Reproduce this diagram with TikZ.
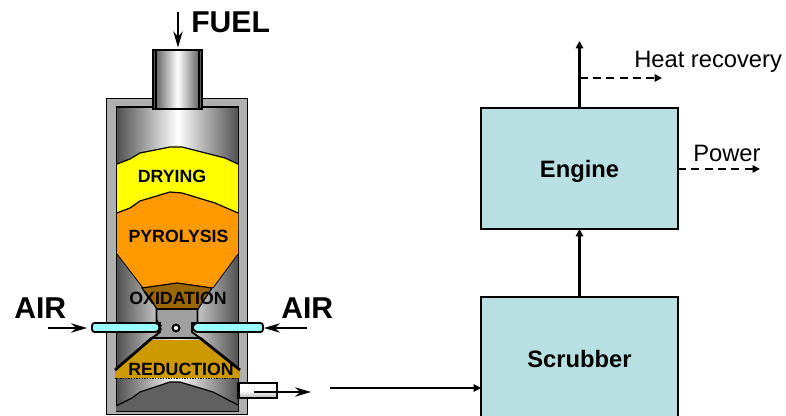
\documentclass[tikz,border=0pt]{standalone}
\usepackage{fontspec}
\setmainfont{Liberation Sans}
\usepackage{tikz}
\usetikzlibrary{arrows.meta,positioning}
\definecolor{ink}{HTML}{000000}
\definecolor{wall}{HTML}{B0B0B0}
\definecolor{shell}{HTML}{505050}
\definecolor{charc}{HTML}{606060}
\definecolor{dryc}{HTML}{FFFF00}
\definecolor{pyrc}{HTML}{FF9900}
\definecolor{oxic}{HTML}{996600}
\definecolor{redc}{HTML}{CC9900}
\definecolor{neckc}{HTML}{A0A0A0}
\definecolor{airc}{HTML}{99FFFF}
\definecolor{boxc}{HTML}{B8DFE2}
\tikzset{
  unit/.style={draw=ink,fill=boxc,line width=0.8pt,minimum width=147.75pt,outer sep=0pt,
    font=\fontsize{17.8}{20}\selectfont\bfseries,text=ink,text depth=0pt},
  big/.style={font=\fontsize{22.6}{24}\selectfont\bfseries,text=ink,inner sep=0pt},
  zone/.style={font=\fontsize{13.3}{15}\selectfont\bfseries,text=ink,inner sep=0pt},
  lbl/.style={font=\fontsize{17.8}{20}\selectfont,text=ink,inner sep=0pt},
  edge/.style={draw=ink,line width=0.9pt},
  heavy/.style={draw=ink,line width=2.1pt},
  grad/.style={left color=shell,right color=shell,middle color=white},
  feed/.style={-{Stealth[length=12pt,width=7pt]},line width=1.5pt,color=ink},
  flow/.style={-{Triangle[length=5.5pt,width=5.5pt]},line width=1.6pt,color=ink},
  fb/.style={-{Triangle[length=5.5pt,width=5.5pt]},line width=1.3pt,color=ink,dash pattern=on 6pt off 4pt},
  node distance=51pt
}
\begin{document}
\begin{tikzpicture}[x=0.75pt,y=-0.75pt]
  \clip (0,0) rectangle (786,416);
  % vessel
  \draw[edge,line width=1.4pt,fill=wall] (106.5,98.5) rectangle (247.5,414.5);
  \draw[edge,line width=1.4pt,grad] (116.5,107) rectangle (238.5,411);
  \fill[charc] (116,406) -- (132,398) -- (140,392) -- (170,382) -- (180,382) -- (213,392)
    -- (238,405) -- (238,411) -- (116,411) -- cycle;
  \draw[edge] (116,406) -- (132,398) -- (140,392) -- (170,382) -- (180,382) -- (213,392) -- (238,405);
  % beds
  \fill[dryc] (117,164) -- (130,159) -- (140,153) -- (170,147) -- (182,147) -- (225,158)
    -- (238,164) -- (238,230) -- (117,230) -- cycle;
  \draw[edge] (117,164) -- (130,159) -- (140,153) -- (170,147) -- (182,147) -- (225,158) -- (238,164);
  \fill[pyrc] (117,213) -- (130,208) -- (140,201) -- (170,192) -- (182,193) -- (215,203)
    -- (238,213) -- (238,254) -- (213,288) -- (143,288) -- (117,254) -- cycle;
  \draw[edge] (117,213) -- (130,208) -- (140,201) -- (170,192) -- (182,193) -- (215,203) -- (238,213);
  \draw[edge,line width=0.6pt] (117,254) -- (143,288) (238,254) -- (213,288);
  \draw[edge,fill=oxic] (142,288) -- (177,283) -- (212,288) -- (198,309) -- (157,309) -- cycle;
  \fill[redc] (152,340) -- (200,340) -- (240,370) -- (240,378) -- (115,378) -- (115,370) -- cycle;
  \draw[edge,line width=1.4pt,fill=neckc] (156.5,309) -- (197.5,309) -- (197.5,323) -- (192,323)
    -- (192,332) -- (200,338) -- (152,338) -- (160,332) -- (160,323) -- (156.5,323) -- cycle;
  \draw[heavy] (152,338) -- (115,370) (200,338) -- (240,370);
  \draw[ink,line width=0.6pt,dash pattern=on 1pt off 1pt] (115,378.5) -- (240,378.5);
  \draw[edge,line width=1.6pt,fill=white] (176,328) circle (3.4);
  % air pipes
  \draw[edge,line width=1.4pt,fill=airc,rounded corners=2pt] (92,323) -- (158,323) -- (160,327.5)
    -- (158,332) -- (92,332) -- cycle;
  \draw[edge,line width=1.4pt,fill=airc,rounded corners=2pt] (263,323) -- (195,323) -- (192,327.5)
    -- (195,332) -- (263,332) -- cycle;
  % fuel and gas pipes
  \node[draw=ink,line width=1.4pt,minimum width=36.75pt,minimum height=44.25pt,grad,outer sep=0pt]
    (hopper) at (177.5,79.5) {};
  \draw[edge] ([xshift=2.2pt]hopper.north west) -- ([xshift=2.2pt]hopper.south west);
  \draw[edge] ([xshift=-2.2pt]hopper.north east) -- ([xshift=-2.2pt]hopper.south east);
  \node[draw=ink,line width=2pt,minimum width=29pt,minimum height=11.25pt,outer sep=0pt,
    top color=white,bottom color=black!30,middle color=white] (outlet) at (257.5,390.5) {};
  % labels
  \node[big,anchor=base west] (fuel) at (191,32.5) {FUEL};
  \node[big,anchor=base west] (airl) at (14,318.5) {AIR};
  \node[big,anchor=base west] (airr) at (281,318.5) {AIR};
  \node[zone] (dry) at (172,176.5) {DRYING};
  \node[zone] (pyr) at (178.5,236) {PYROLYSIS};
  \node[zone] (oxi) at (178,298.5) {OXIDATION};
  \node[zone] (red) at (181,369) {REDUCTION};
  % free ends
  \coordinate (fuelin) at (178,12);
  \coordinate (fueltip) at (178,47.5);
  \coordinate (airlin) at (48,328);
  \coordinate (airltip) at (87,328);
  \coordinate (airrin) at (307,328);
  \coordinate (airrtip) at (264,328);
  \coordinate (gasin) at (254,392);
  \coordinate (gastip) at (311,392);
  \coordinate (gasout) at (330,388);
  \draw[feed] (fuelin) -- (fueltip);
  \draw[feed] (airlin) -- (airltip);
  \draw[feed] (airrin) -- (airrtip);
  \draw[feed] (gasin) -- (gastip);
  % process blocks
  \node[unit,minimum height=90.75pt] (engine) at (579.5,168.5) {Engine};
  \node[unit,minimum height=93pt,below=51pt of engine] (scrubber) {Scrubber};
  \coordinate (stack) at (engine.north |- 0,41);
  \coordinate (tap) at (engine.north |- 0,78);
  \coordinate (heatend) at (662,78);
  \coordinate (powerend) at (760,169);
  \node[lbl,anchor=base west] (heat) at (634,67.5) {Heat recovery};
  \node[lbl,anchor=base west] (power) at (693,161.5) {Power};
  \draw[flow] (scrubber.north) -- (engine.south);
  \draw[flow] (engine.north) -- (stack);
  \draw[fb] (tap) -- (heatend);
  \draw[fb] (engine.east |- powerend) -- (powerend);
  \draw[-{Triangle[length=5.5pt,width=5.5pt]},line width=1.3pt,color=ink] (gasout) -- (gasout -| scrubber.west);
\end{tikzpicture}
\end{document}
